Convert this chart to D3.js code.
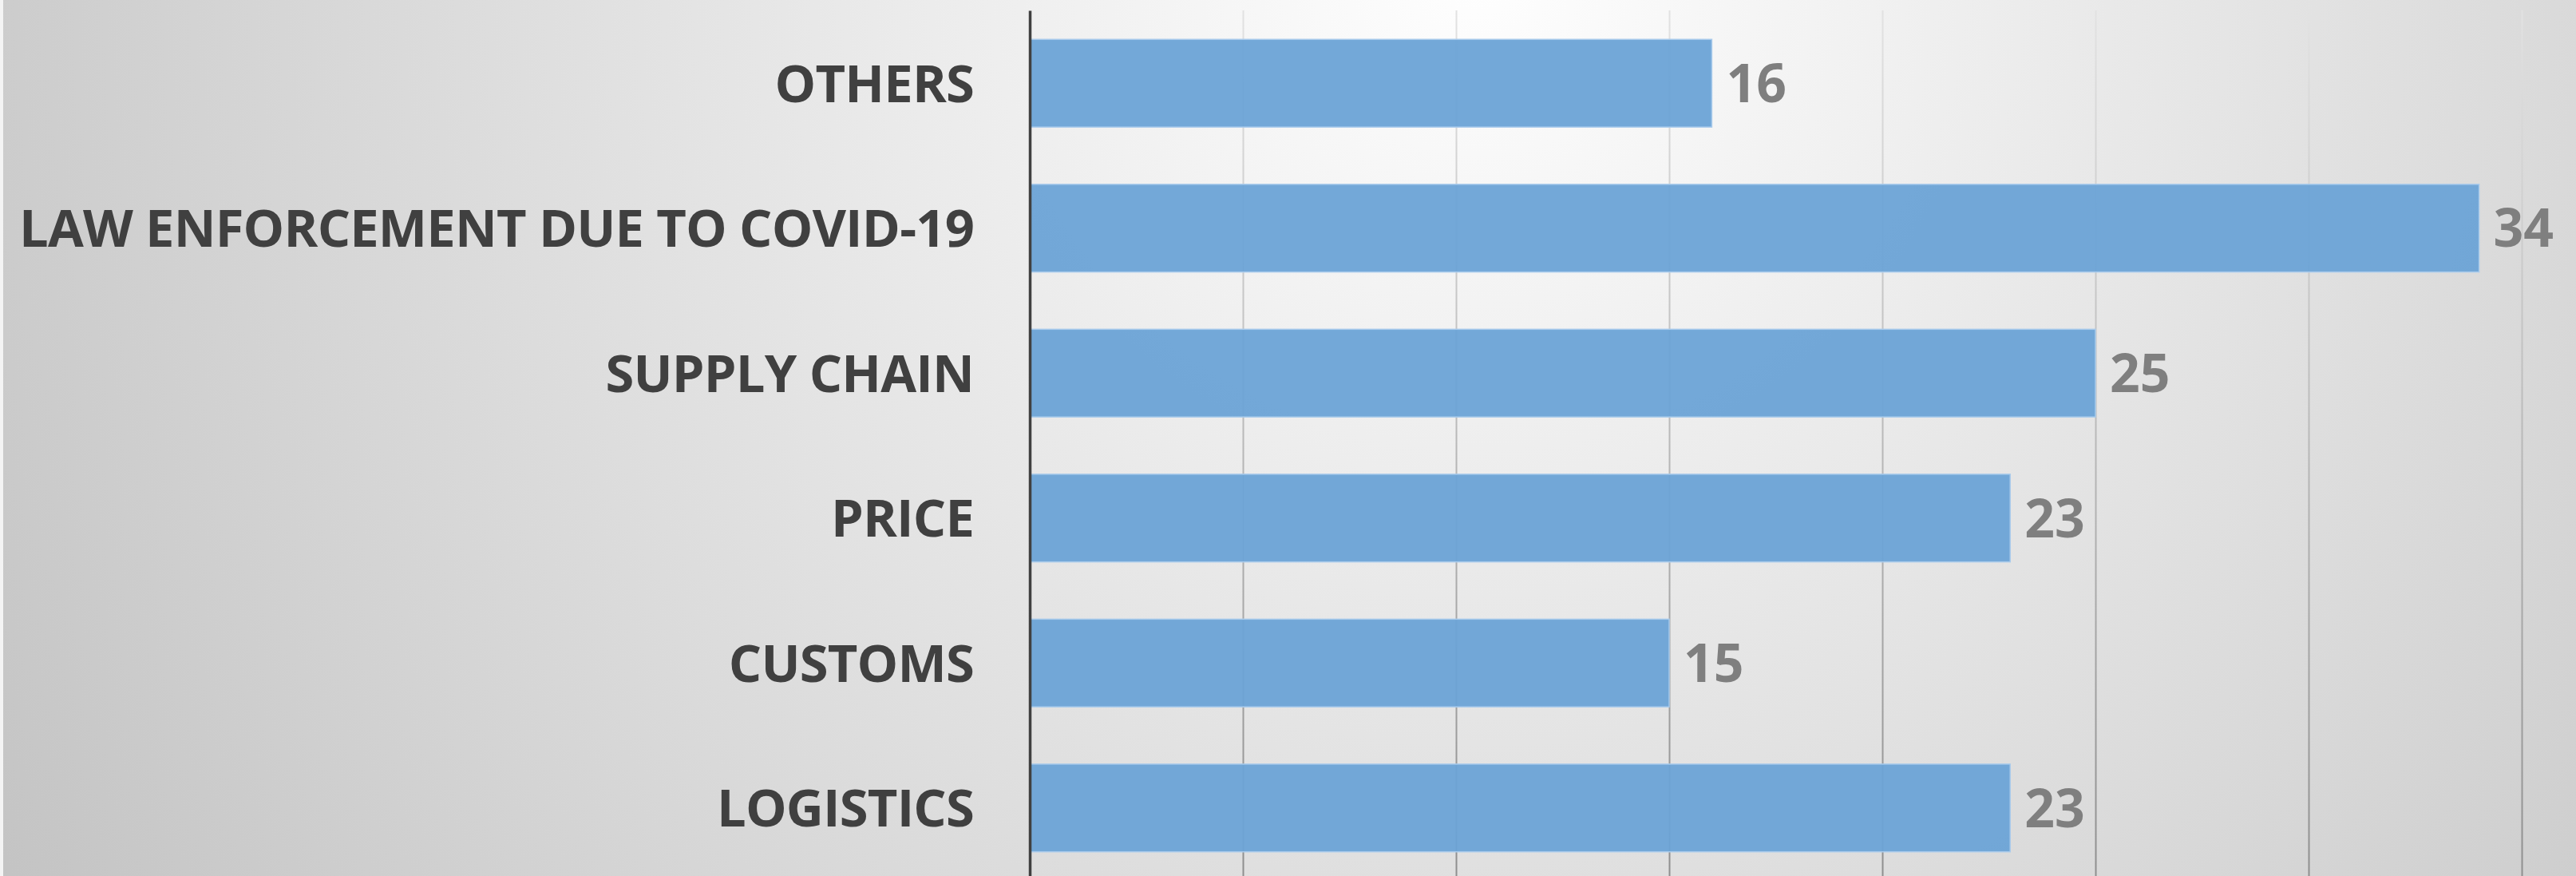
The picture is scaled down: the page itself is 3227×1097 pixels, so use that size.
<!DOCTYPE html>
<html>
<head>
<meta charset="utf-8">
<script src="https://cdn.jsdelivr.net/npm/d3@7"></script>
<style>
  html, body { margin: 0; padding: 0; background: #fff; }
  svg { display: block; }
  .cat text { font-family: "Open Sans", sans-serif; font-weight: 700; fill: #404040; letter-spacing: -0.8px; }
  .value { font-family: "Open Sans", sans-serif; font-weight: 700; fill: #7f7f7f; }
</style>
</head>
<body>
<svg class="chart"></svg>
<script>

var categories = ["OTHERS", "LAW ENFORCEMENT DUE TO COVID-19", "SUPPLY CHAIN", "PRICE", "CUSTOMS", "LOGISTICS"];
var values = [16, 34, 25, 23, 15, 23];
var gridTicks = [5, 10, 15, 20, 25, 30, 35];
var xMax = 35;

function show() {

    'use strict';

    var W = 3227, H = 1097;
    var margin = {top: 13, left: 1290, right: 68, bottom: -6},
        width = W - margin.left - margin.right,
        height = H - margin.top - margin.bottom;

    var svg = d3.select(".chart")
        .attr("width", W)
        .attr("height", H);

    var defs = svg.append("defs");

    var bg = defs.append("radialGradient")
        .attr("id", "bg")
        .attr("gradientUnits", "userSpaceOnUse")
        .attr("cx", 1850).attr("cy", -50).attr("r", 2200);
    bg.append("stop").attr("offset", "0").attr("stop-color", "#ffffff");
    bg.append("stop").attr("offset", "0.06").attr("stop-color", "#fbfbfb");
    bg.append("stop").attr("offset", "1").attr("stop-color", "#c3c3c3");

    var gridGrad = defs.append("linearGradient")
        .attr("id", "gridGrad")
        .attr("gradientUnits", "userSpaceOnUse")
        .attr("x1", 0).attr("y1", 0).attr("x2", 0).attr("y2", height);
    gridGrad.append("stop").attr("offset", "0").attr("stop-color", "#e2e2e2");
    gridGrad.append("stop").attr("offset", "1").attr("stop-color", "#8e8e8e");

    svg.append("rect")
        .attr("width", W).attr("height", H)
        .attr("fill", "url(#bg)");

    svg.append("rect")
        .attr("width", 4).attr("height", H)
        .attr("fill", "#f4f4f4");

    var chart = svg.append("g")
        .attr("transform", "translate(" + margin.left + "," + margin.top + ")");

    var x = d3.scaleLinear()
        .domain([0, xMax])
        .range([0, width]);

    var y = d3.scaleBand()
        .domain(categories)
        .range([0, height])
        .paddingInner(0.395)
        .paddingOuter(0.2);

    // vertical gridlines
    var grid = chart.append("g")
        .attr("class", "grid")
        .call(d3.axisTop(x)
            .tickValues(gridTicks)
            .tickSize(-height)
            .tickFormat(""));
    grid.select(".domain").remove();
    grid.selectAll(".tick line")
        .attr("stroke", "url(#gridGrad)")
        .attr("stroke-width", 2);

    // bars
    chart.selectAll(".bar")
        .data(values)
        .enter().append("rect")
        .attr("class", "bar")
        .attr("x", x(0))
        .attr("y", function(d, i) { return y(categories[i]); })
        .attr("width", function(d) { return x(d) - x(0); })
        .attr("height", y.bandwidth())
        .attr("fill", "#6ca3d6")
        .attr("fill-opacity", 0.95)
        .attr("stroke", "#a9cbec")
        .attr("stroke-width", 1.5);

    // value labels
    chart.selectAll(".value")
        .data(values)
        .enter().append("text")
        .attr("class", "value")
        .attr("x", function(d) { return x(d) + 18; })
        .attr("y", function(d, i) { return y(categories[i]) + y.bandwidth() / 2; })
        .attr("dy", "0.36em")
        .style("font-size", "66px")
        .text(function(d) { return d; });

    // category axis
    var yAxis = chart.append("g")
        .attr("class", "cat")
        .call(d3.axisLeft(y).tickSize(0).tickSizeOuter(0).tickPadding(70));
    yAxis.select(".domain")
        .attr("stroke", "#404040")
        .attr("stroke-width", 3.5);
    yAxis.selectAll(".tick text")
        .attr("dy", "0.36em")
        .style("font-size", "65px");
}

show();
</script>
</body>
</html>
